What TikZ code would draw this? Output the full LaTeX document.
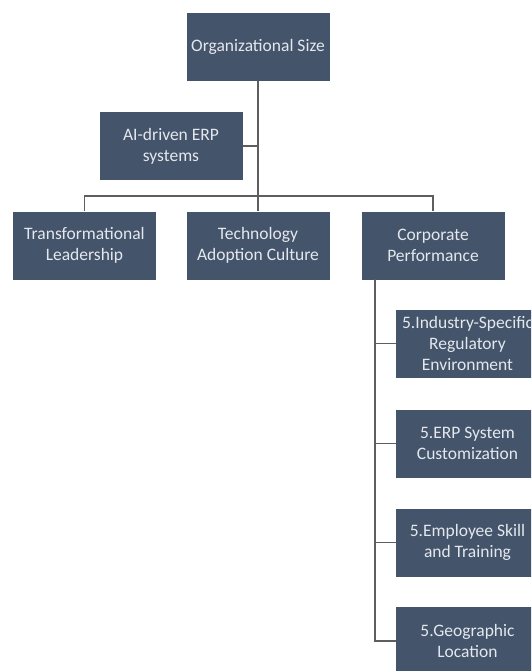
\documentclass[tikz,border=0pt]{standalone}
\usepackage{fontspec}
\setmainfont{Carlito}
\usetikzlibrary{calc}
\definecolor{boxfill}{HTML}{44546A}
\definecolor{boxtext}{HTML}{E4E8EE}
\definecolor{linkgray}{HTML}{5E5E5E}
\tikzset{
  orgbox/.style={rectangle, fill=boxfill, text=boxtext, align=center,
    minimum width=143pt, minimum height=68pt, inner sep=2pt,
    font=\fontsize{17.5}{21}\selectfont},
  link/.style={draw=linkgray, line width=1.1pt}
}
\begin{document}
\begin{tikzpicture}[x=1pt,y=-1pt]
  \useasboundingbox (0,0) rectangle (531,671);
  \clip (0,0) rectangle (531,671);
  % top level and side input
  \node[orgbox] (size) at (258,47) {Organizational Size};
  \node[orgbox] (ai) at (171,146) {AI-driven ERP\\systems};
  % second level
  \node[orgbox] (lead) at (84.5,245.5) {Transformational\\Leadership};
  \node[orgbox] (tech) at (258,245.5) {Technology\\Adoption Culture};
  \node[orgbox] (perf) at (433,245.5) {Corporate\\Performance};
  % sub-items of corporate performance
  \node[orgbox] (reg) at (467.5,343.5) {5.Industry-Specific\\Regulatory\\Environment};
  \node[orgbox] (cust) at (467.5,443.5) {5.ERP System\\Customization};
  \node[orgbox] (skill) at (467.5,542.5) {5.Employee Skill\\and Training};
  \node[orgbox] (geo) at (467.5,641) {5.Geographic\\Location};
  % connectors
  \coordinate (bar) at (258,196);
  \coordinate (stem) at (375,279);
  \draw[link] (size.south) -- (tech.north);
  \draw[link] (ai.east) -- (ai.east -| size.south);
  \draw[link] (lead.north) |- (bar) -| (perf.north);
  \draw[link] (stem) |- (geo.west);
  \draw[link] (reg.west) -- (reg.west -| stem);
  \draw[link] (cust.west) -- (cust.west -| stem);
  \draw[link] (skill.west) -- (skill.west -| stem);
\end{tikzpicture}
\end{document}
